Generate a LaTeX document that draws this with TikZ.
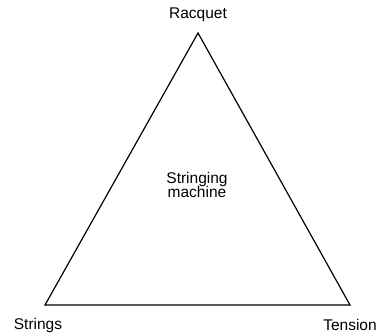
\documentclass[tikz,border=0pt]{standalone}
\usepackage{fontspec}
\setmainfont{Liberation Sans}
\begin{document}
\begin{tikzpicture}[x=1pt,y=-1pt,
  lbl/.style={inner sep=0pt,font=\fontsize{15.5}{17}\selectfont,align=center},
  edge/.style={line width=1.2pt,line join=miter}]
\useasboundingbox (0,0) rectangle (379,336);
\coordinate (top) at (198,33);
\coordinate (bl) at (45,305);
\coordinate (br) at (350,305);
\draw[edge] (top) -- (br) -- (bl) -- cycle;
\node[lbl] (racquet) at (198,15) {Racquet};
\node[lbl] (strings) at (38,325) {Strings};
\node[lbl] (tension) at (350,325) {Tension};
\node[lbl] (machine) at (197,185) {Stringing\\[-3pt]machine};
\end{tikzpicture}
\end{document}
